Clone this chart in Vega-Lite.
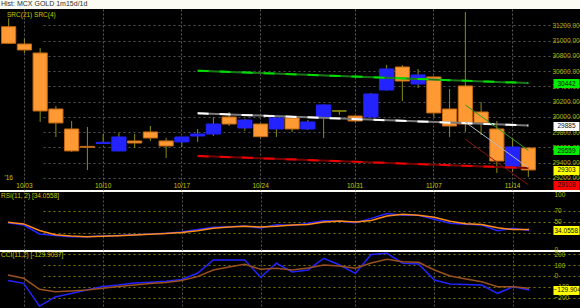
{
  "$schema": "https://vega.github.io/schema/vega-lite/v6.json",
  "background": "#fbfbf3",
  "padding": 0,
  "autosize": {"type": "pad"},
  "spacing": 2,
  "bounds": "flush",
  "title": {"text": "Hist: MCX GOLD 1m15d/1d", "anchor": "start", "fontSize": 7, "fontWeight": "normal", "color": "#303030", "offset": 2, "baseline": "top", "font": "Liberation Sans", "dx": 1},
  "config": {
    "view": {"fill": "#000000", "stroke": null},
    "font": "Liberation Sans",
    "axis": {"labelFont": "Liberation Sans", "labelFontSize": 6.5, "labelColor": "#c0c000", "domain": false, "ticks": false, "tickSize": 0, "labelOverlap": false, "labelBound": false},
    "title": {"font": "Liberation Sans", "fontSize": 6.5, "fontWeight": "normal", "color": "#c8c800"}
  },
  "datasets": {
    "candles": [
      {"d": "09/30", "o": 31181, "h": 31291, "l": 30955, "c": 30963},
      {"d": "10/03", "o": 30954, "h": 31020, "l": 30836, "c": 30876},
      {"d": "10/04", "o": 30836, "h": 30902, "l": 29932, "c": 30076},
      {"d": "10/05", "o": 30102, "h": 30141, "l": 29735, "c": 29919},
      {"d": "10/06", "o": 29840, "h": 29945, "l": 29540, "c": 29552},
      {"d": "10/07", "o": 29612, "h": 29866, "l": 29302, "c": 29600},
      {"d": "10/10", "o": 29650, "h": 29774, "l": 29645, "c": 29665},
      {"d": "10/11", "o": 29552, "h": 29787, "l": 29548, "c": 29735},
      {"d": "10/12", "o": 29683, "h": 29774, "l": 29591, "c": 29656},
      {"d": "10/13", "o": 29801, "h": 29879, "l": 29683, "c": 29722},
      {"d": "10/14", "o": 29683, "h": 29722, "l": 29460, "c": 29617},
      {"d": "10/17", "o": 29670, "h": 29738, "l": 29604, "c": 29735},
      {"d": "10/18", "o": 29748, "h": 29840, "l": 29670, "c": 29774},
      {"d": "10/19", "o": 29774, "h": 29997, "l": 29748, "c": 29905},
      {"d": "10/20", "o": 29997, "h": 30063, "l": 29879, "c": 29905},
      {"d": "10/21", "o": 29853, "h": 29971, "l": 29814, "c": 29958},
      {"d": "10/24", "o": 29905, "h": 29910, "l": 29722, "c": 29739},
      {"d": "10/25", "o": 29840, "h": 29990, "l": 29735, "c": 29984},
      {"d": "10/26", "o": 29984, "h": 29990, "l": 29801, "c": 29840},
      {"d": "10/27", "o": 29840, "h": 29958, "l": 29827, "c": 29932},
      {"d": "10/28", "o": 29997, "h": 30160, "l": 29722, "c": 30155},
      {"d": "10/30", "o": 30076, "h": 30080, "l": 30023, "c": 30076},
      {"d": "10/31", "o": 30010, "h": 30015, "l": 29932, "c": 29945},
      {"d": "11/01", "o": 29997, "h": 30312, "l": 29990, "c": 30299},
      {"d": "11/02", "o": 30351, "h": 30679, "l": 30345, "c": 30627},
      {"d": "11/03", "o": 30653, "h": 30679, "l": 30207, "c": 30469},
      {"d": "11/04", "o": 30430, "h": 30627, "l": 30377, "c": 30548},
      {"d": "11/07", "o": 30522, "h": 30530, "l": 29997, "c": 30050},
      {"d": "11/08", "o": 30102, "h": 30364, "l": 29735, "c": 29879},
      {"d": "11/09", "o": 30404, "h": 31374, "l": 29801, "c": 29905},
      {"d": "11/10", "o": 30063, "h": 30194, "l": 29761, "c": 29919},
      {"d": "11/11", "o": 29840, "h": 29945, "l": 29263, "c": 29420},
      {"d": "11/14", "o": 29329, "h": 29722, "l": 29276, "c": 29604},
      {"d": "11/15", "o": 29591, "h": 29600, "l": 29211, "c": 29303}
    ],
    "chan": [
      {"d": "10/18", "s": "g21", "v": 30604}, {"d": "11/15", "s": "g21", "v": 30442},
      {"d": "10/18", "s": "w21", "v": 30046}, {"d": "11/15", "s": "w21", "v": 29885},
      {"d": "10/18", "s": "r21", "v": 29486}, {"d": "11/15", "s": "r21", "v": 29327},
      {"d": "11/09", "s": "g4", "v": 30155}, {"d": "11/15", "s": "g4", "v": 29559},
      {"d": "11/09", "s": "w4", "v": 29930}, {"d": "11/15", "s": "w4", "v": 29333},
      {"d": "11/09", "s": "r4", "v": 29705}, {"d": "11/15", "s": "r4", "v": 29108}
    ],
    "osc": [
      {"d": "09/30", "rsi": 48, "rsim": 49, "cci": -43, "ccim": 8},
      {"d": "10/03", "rsi": 44, "rsim": 46, "cci": -69, "ccim": -22},
      {"d": "10/04", "rsi": 27.6, "rsim": 34, "cci": -279, "ccim": -124},
      {"d": "10/05", "rsi": 25, "rsim": 26.3, "cci": -195, "ccim": -146},
      {"d": "10/06", "rsi": 22.7, "rsim": 23.9, "cci": -163, "ccim": -140},
      {"d": "10/07", "rsi": 22.7, "rsim": 22.7, "cci": -131, "ccim": -131},
      {"d": "10/10", "rsi": 24, "rsim": 23.4, "cci": -98, "ccim": -115},
      {"d": "10/11", "rsi": 25, "rsim": 24.5, "cci": -84, "ccim": -98},
      {"d": "10/12", "rsi": 26.4, "rsim": 25.7, "cci": -66, "ccim": -84},
      {"d": "10/13", "rsi": 27.6, "rsim": 27, "cci": -59, "ccim": -70},
      {"d": "10/14", "rsi": 29, "rsim": 28.3, "cci": -50, "ccim": -61},
      {"d": "10/17", "rsi": 31.3, "rsim": 30.2, "cci": -33, "ccim": -43},
      {"d": "10/18", "rsi": 36, "rsim": 33.7, "cci": 24, "ccim": -7},
      {"d": "10/19", "rsi": 40, "rsim": 38, "cci": 147, "ccim": 55},
      {"d": "10/20", "rsi": 41, "rsim": 40.5, "cci": 147, "ccim": 82},
      {"d": "10/21", "rsi": 42, "rsim": 41.5, "cci": 147, "ccim": 107},
      {"d": "10/24", "rsi": 38.5, "rsim": 40.3, "cci": -13, "ccim": 61},
      {"d": "10/25", "rsi": 44.5, "rsim": 41.5, "cci": 117, "ccim": 70},
      {"d": "10/26", "rsi": 43, "rsim": 43.8, "cci": 36, "ccim": 55},
      {"d": "10/27", "rsi": 47, "rsim": 45, "cci": 55, "ccim": 73},
      {"d": "10/28", "rsi": 51.8, "rsim": 49.4, "cci": 163, "ccim": 101},
      {"d": "10/30", "rsi": 51, "rsim": 51.4, "cci": 101, "ccim": 92},
      {"d": "10/31", "rsi": 48.2, "rsim": 49.6, "cci": 24, "ccim": 70},
      {"d": "11/01", "rsi": 56, "rsim": 52, "cci": 198, "ccim": 119},
      {"d": "11/02", "rsi": 65, "rsim": 60.5, "cci": 209, "ccim": 154},
      {"d": "11/03", "rsi": 61.6, "rsim": 63.3, "cci": 117, "ccim": 131},
      {"d": "11/04", "rsi": 61.6, "rsim": 61.6, "cci": 110, "ccim": 126},
      {"d": "11/07", "rsi": 54.4, "rsim": 58, "cci": -38, "ccim": 55},
      {"d": "11/08", "rsi": 47, "rsim": 50.7, "cci": -75, "ccim": -1},
      {"d": "11/09", "rsi": 45.3, "rsim": 46.2, "cci": -80, "ccim": -29},
      {"d": "11/10", "rsi": 44, "rsim": 44.7, "cci": -84, "ccim": -54},
      {"d": "11/11", "rsi": 33.6, "rsim": 38.8, "cci": -161, "ccim": -100},
      {"d": "11/14", "rsi": 38, "rsim": 35.8, "cci": -100, "ccim": -100},
      {"d": "11/15", "rsi": 34.0558, "rsim": 36, "cci": -129.9037, "ccim": -115}
    ]
  },
  "vconcat": [
    {
      "width": 580,
      "height": 181,
      "title": {"text": "SRC(21)   SRC(4)", "anchor": "start", "frame": "group", "orient": "top", "baseline": "top", "offset": -9, "dx": 7},
      "encoding": {
        "x": {"field": "d", "type": "ordinal", "scale": {"range": [0, 537], "paddingInner": 0.1, "paddingOuter": 0.1},
          "axis": {"values": ["09/30", "10/03", "10/10", "10/17", "10/24", "10/31", "11/07", "11/14"], "labelExpr": "datum.value == '09/30' ? [\"'16\", ''] : ['', datum.value]", "orient": "bottom", "labelAngle": 0, "labelPadding": -16, "labelBaseline": "top", "labelLineHeight": 8, "labelColor": "#c8c800", "grid": true, "gridColor": {"condition": {"test": "datum.value == '09/30'", "value": "transparent"}, "value": "#5a5a5a"}, "gridDash": [2, 2], "bandPosition": 0.5, "title": null}}
      },
      "layer": [
        {
          "data": {"name": "candles"},
          "mark": {"type": "rule", "color": "#8c8c14", "strokeWidth": 1},
          "encoding": {
            "y": {"field": "l", "type": "quantitative", "scale": {"domain": [29040, 31413], "nice": false, "zero": false}, "axis": null},
            "y2": {"field": "h"}
          }
        },
        {
          "data": {"name": "candles"},
          "mark": {"type": "bar", "strokeWidth": 1},
          "encoding": {
            "y": {"field": "o", "type": "quantitative", "scale": {"domain": [29040, 31413], "nice": false, "zero": false},
              "axis": {"orient": "right", "offset": -28, "values": [29200, 29400, 29600, 29800, 30000, 30200, 30400, 30600, 30800, 31000, 31200], "format": ".2f", "labelAlign": "left", "labelPadding": 0, "labelColor": "#b8b800", "grid": true, "gridColor": "#555555", "gridDash": [2, 3], "title": null, "zindex": 0}},
            "y2": {"field": "c"},
            "fill": {"condition": [{"test": "datum.c > datum.o", "value": "#2323ff"}, {"test": "datum.c == datum.o", "value": "#9a9a10"}], "value": "#ff9933"},
            "stroke": {"condition": [{"test": "datum.c > datum.o", "value": "#2323ff"}, {"test": "datum.c == datum.o", "value": "#9a9a10"}], "value": "#c46a14"}
          }
        },
        {
          "data": {"name": "chan"},
          "transform": [{"filter": "indexof(['g21','w21','r21'], datum.s) >= 0"}],
          "mark": {"type": "line", "strokeWidth": 2},
          "encoding": {
            "y": {"field": "v", "type": "quantitative", "scale": {"domain": [29040, 31413], "nice": false, "zero": false}, "axis": null},
            "color": {"field": "s", "type": "nominal", "scale": {"domain": ["g21", "w21", "r21"], "range": ["#1a7a1a", "#7a7a7a", "#7a0000"]}, "legend": null}
          }
        },
        {
          "data": {"name": "chan"},
          "transform": [{"filter": "indexof(['g21','w21','r21'], datum.s) >= 0"}],
          "mark": {"type": "line", "strokeWidth": 2, "strokeDash": [11, 11]},
          "encoding": {
            "y": {"field": "v", "type": "quantitative", "scale": {"domain": [29040, 31413], "nice": false, "zero": false}, "axis": null},
            "stroke": {"field": "s", "type": "nominal", "scale": {"domain": ["g21", "w21", "r21"], "range": ["#00dd00", "#ffffff", "#ee0000"]}, "legend": null}
          }
        },
        {
          "data": {"name": "chan"},
          "transform": [{"filter": "indexof(['g4','w4','r4'], datum.s) >= 0"}],
          "mark": {"type": "line", "strokeWidth": 1},
          "encoding": {
            "y": {"field": "v", "type": "quantitative", "scale": {"domain": [29040, 31413], "nice": false, "zero": false},
              "axis": {"orient": "right", "offset": -27, "values": [30442, 29885, 29559, 29303, 29108], "format": "d", "ticks": true, "tickSize": 26, "tickWidth": 9, "tickCap": "butt",
                "tickColor": {"condition": [{"test": "datum.value == 30442 || datum.value == 29559", "value": "#00ee00"}, {"test": "datum.value == 29885", "value": "#ffffff"}, {"test": "datum.value == 29303", "value": "#ffff00"}], "value": "#ff0000"},
                "labelPadding": -22, "labelAlign": "left", "labelColor": "#101010", "grid": false, "title": null, "zindex": 2}},
            "color": {"field": "s", "type": "nominal", "scale": {"domain": ["g4", "w4", "r4"], "range": ["#2a9a2a", "#b8b8b8", "#8a1010"]}, "legend": null}
          }
        }
      ],
      "resolve": {"axis": {"y": "independent"}, "scale": {"color": "independent", "stroke": "independent"}}
    },
    {
      "width": 580,
      "height": 58,
      "title": {"text": "RSI(11, 2) [34.0558]", "anchor": "start", "frame": "group", "orient": "top", "baseline": "top", "offset": -8, "dx": 1},
      "data": {"name": "osc"},
      "encoding": {
        "x": {"field": "d", "type": "ordinal", "scale": {"range": [0, 537], "paddingInner": 0.1, "paddingOuter": 0.1},
          "axis": {"values": ["10/03", "10/10", "10/17", "10/24", "10/31", "11/07", "11/14"], "labels": false, "grid": true, "gridColor": "#505050", "gridDash": [2, 2], "bandPosition": 0.5, "title": null}}
      },
      "layer": [
        {
          "mark": {"type": "line", "color": "#2323ff", "strokeWidth": 1.5},
          "encoding": {
            "y": {"field": "rsi", "type": "quantitative", "scale": {"domain": [-1.5, 104], "nice": false, "zero": false},
              "axis": {"orient": "right", "offset": -27, "values": [0, 30, 50, 70, 100], "format": "d", "labelAlign": "left", "labelPadding": 1, "labelColor": "#b8b800", "grid": true, "gridColor": "#7a7a00", "gridDash": [2, 3], "gridOpacity": {"condition": {"test": "datum.value == 0 || datum.value == 100", "value": 0}, "value": 1}, "title": null, "zindex": 0}}
          }
        },
        {
          "mark": {"type": "line", "color": "#ff8c1a", "strokeWidth": 1.5},
          "encoding": {
            "y": {"field": "rsim", "type": "quantitative", "scale": {"domain": [-1.5, 104], "nice": false, "zero": false},
              "axis": {"orient": "right", "offset": -27, "values": [34.0558], "format": ".4f", "ticks": true, "tickSize": 26, "tickWidth": 9, "tickCap": "butt", "tickColor": "#ffff00", "labelPadding": -25, "labelAlign": "left", "labelColor": "#101010", "grid": false, "title": null, "zindex": 2}}
          }
        }
      ],
      "resolve": {"axis": {"y": "independent"}}
    },
    {
      "width": 580,
      "height": 56,
      "title": {"text": "CCI(11,2) [-129.9037]", "anchor": "start", "frame": "group", "orient": "top", "baseline": "top", "offset": -8, "dx": 1},
      "data": {"name": "osc"},
      "encoding": {
        "x": {"field": "d", "type": "ordinal", "scale": {"range": [0, 537], "paddingInner": 0.1, "paddingOuter": 0.1},
          "axis": {"values": ["10/03", "10/10", "10/17", "10/24", "10/31", "11/07", "11/14"], "labels": false, "grid": true, "gridColor": "#505050", "gridDash": [2, 2], "bandPosition": 0.5, "title": null}}
      },
      "layer": [
        {
          "mark": {"type": "line", "color": "#2323ff", "strokeWidth": 1.5},
          "encoding": {
            "y": {"field": "cci", "type": "quantitative", "scale": {"domain": [-297, 221], "nice": false, "zero": false},
              "axis": {"orient": "right", "offset": -27, "values": [-200, -100, 0, 100, 200], "format": "d", "labelAlign": "left", "labelPadding": 1, "labelColor": "#b8b800", "grid": true, "gridColor": "#7a7a00", "gridDash": [2, 3], "title": null, "zindex": 0}}
          }
        },
        {
          "mark": {"type": "line", "color": "#9a5020", "strokeWidth": 1.5},
          "encoding": {
            "y": {"field": "ccim", "type": "quantitative", "scale": {"domain": [-297, 221], "nice": false, "zero": false},
              "axis": {"orient": "right", "offset": -27, "values": [-129.9037], "format": ".3f", "ticks": true, "tickSize": 26, "tickWidth": 9, "tickCap": "butt", "tickColor": "#ffff00", "labelPadding": -26, "labelAlign": "left", "labelColor": "#101010", "grid": false, "title": null, "zindex": 2}}
          }
        }
      ],
      "resolve": {"axis": {"y": "independent"}}
    }
  ]
}
